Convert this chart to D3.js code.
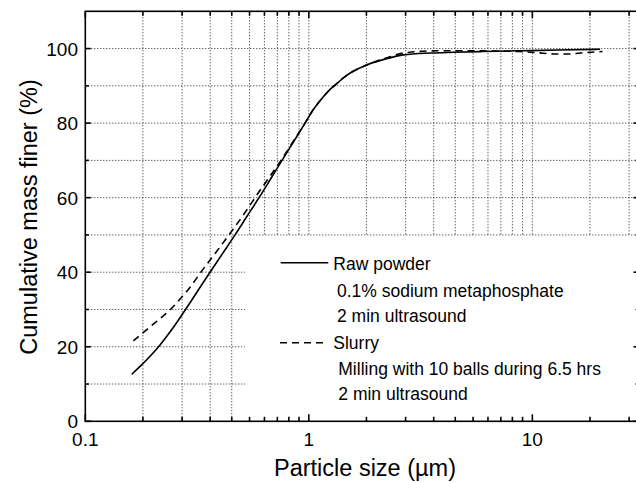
<!DOCTYPE html>
<html>
<head>
<meta charset="utf-8">
<script src="https://cdn.jsdelivr.net/npm/d3@7"></script>
<style>
  body { margin: 0; background: #fff; }
  svg { display: block; font-family: 'Liberation Sans', Arial, sans-serif; }
</style>
</head>
<body>
<div id="chart"></div>
<script>
(function() {

  // particle size (um) / cumulative mass finer (%)
  const rawSize = [0.1613, 0.1739, 0.1869, 0.2009, 0.2159, 0.2443, 0.2765, 0.3161, 0.3614, 0.4111,
    0.4676, 0.529, 0.5987, 0.6743, 0.7588, 0.8543, 0.9617, 1.044, 1.122, 1.219, 1.31, 1.452, 1.58,
    1.815, 2.23, 2.65, 3.5, 4.4, 6.0, 8.8, 13.0, 20.1];
  const rawFiner = [12.6, 14.45, 16.3, 18.3, 20.5, 24.7, 29.4, 34.7, 40, 45,
    50, 55, 60, 65, 70, 75, 80, 83.5, 86, 88.5, 90.2, 92.5, 93.9,
    95.6, 97.3, 98.3, 98.8, 99.0, 99.2, 99.4, 99.6, 99.8];

  const slurrySize = [0.164, 0.1849, 0.2094, 0.2393, 0.2709, 0.2971, 0.3261, 0.3805, 0.4441, 0.5183,
    0.5745, 0.657, 0.7507, 0.85, 0.9617, 1.044, 1.122, 1.219, 1.31, 1.452, 1.58, 1.815, 2.23, 2.65,
    3.73, 5.26, 7.4, 8.8, 10.5, 12.5, 14.5, 17.0, 20.6];
  const slurryFiner = [21.6, 24.2, 26.9, 29.9, 33.4, 36.3, 39.7, 45, 50.4, 56,
    60, 65, 70, 75, 80, 83.5, 86, 88.5, 90.2, 92.5, 93.9, 95.6, 97.5, 98.8,
    99.4, 99.4, 99.3, 99.2, 98.9, 98.55, 98.55, 98.9, 99.2];

  const xMajorTicks = [0.1, 1, 10];
  const xMinorGrid = [0.181, 0.271, 0.362, 0.452, 0.543, 0.633, 0.723, 0.814, 0.904,
    1.81, 2.71, 3.62, 4.52, 5.43, 6.33, 7.23, 8.14, 9.04, 18.1, 27.1];
  const yMajorTicks = [0, 20, 40, 60, 80, 100];
  const yMinorTicks = [10, 30, 50, 70, 90];

  const legendRaw = ['Raw powder', '0.1% sodium metaphosphate', '2 min ultrasound'];
  const legendSlurry = ['Slurry', 'Milling with 10 balls during 6.5 hrs', '2 min ultrasound'];

  const size = { x: 636, y: 483 };
  const plot = { left: 85.3, right: 639, top: 11.3, bottom: 421.3 };

  const svg = d3.select('#chart')
    .append('svg')
    .attr('width', size.x)
    .attr('height', size.y);

  const xScale = d3.scaleLog()
    .domain([0.1, 30])
    .range([plot.left, plot.right]);
  const yScale = d3.scaleLinear()
    .domain([0, 110])
    .range([plot.bottom, plot.top]);

  // grid
  const grid = svg.append('g')
    .attr('stroke', '#222')
    .attr('stroke-width', 1)
    .attr('stroke-dasharray', '1,2');
  grid.selectAll('.vgrid')
    .data(xMinorGrid.concat([1, 10]))
    .enter()
    .append('line')
      .attr('x1', d => xScale(d))
      .attr('x2', d => xScale(d))
      .attr('y1', plot.top)
      .attr('y2', plot.bottom);
  grid.selectAll('.hgrid')
    .data(yMajorTicks.concat(yMinorTicks).filter(d => d > 0))
    .enter()
    .append('line')
      .attr('x1', plot.left)
      .attr('x2', plot.right)
      .attr('y1', d => yScale(d))
      .attr('y2', d => yScale(d));

  // legend background hides the grid
  svg.append('rect')
    .attr('x', 245)
    .attr('y', yScale(50) + 1)
    .attr('width', plot.right - 245)
    .attr('height', plot.bottom - yScale(50) - 1)
    .attr('fill', '#fff');

  // curves
  const valueLine = d3.line()
    .x(d => xScale(d[0]))
    .y(d => yScale(d[1]))
    .curve(d3.curveMonotoneX);

  svg.append('path')
    .datum(d3.zip(rawSize, rawFiner))
    .attr('d', valueLine)
    .attr('fill', 'none')
    .attr('stroke', '#000')
    .attr('stroke-width', 1.6);

  svg.append('path')
    .datum(d3.zip(slurrySize, slurryFiner))
    .attr('d', valueLine)
    .attr('fill', 'none')
    .attr('stroke', '#000')
    .attr('stroke-width', 1.6)
    .attr('stroke-dasharray', '7,5');

  // frame and ticks
  const axes = svg.append('g')
    .attr('stroke', '#000')
    .attr('stroke-width', 1.6);
  axes.append('rect')
    .attr('x', plot.left)
    .attr('y', plot.top)
    .attr('width', plot.right - plot.left)
    .attr('height', plot.bottom - plot.top)
    .attr('fill', 'none');

  const xTicks = xMajorTicks.map(d => [d, 7]).concat(xMinorGrid.map(d => [d, 4.5]));
  xTicks.forEach(t => {
    axes.append('line')
      .attr('x1', xScale(t[0])).attr('x2', xScale(t[0]))
      .attr('y1', plot.bottom).attr('y2', plot.bottom - t[1]);
    axes.append('line')
      .attr('x1', xScale(t[0])).attr('x2', xScale(t[0]))
      .attr('y1', plot.top).attr('y2', plot.top + t[1]);
  });
  const yTicks = yMajorTicks.map(d => [d, 5.5]).concat(yMinorTicks.map(d => [d, 3.5]));
  yTicks.forEach(t => {
    axes.append('line')
      .attr('x1', plot.left).attr('x2', plot.left + t[1])
      .attr('y1', yScale(t[0])).attr('y2', yScale(t[0]));
    axes.append('line')
      .attr('x1', plot.right).attr('x2', plot.right - t[1])
      .attr('y1', yScale(t[0])).attr('y2', yScale(t[0]));
  });

  // tick labels
  svg.selectAll('.xlabel')
    .data(xMajorTicks)
    .enter()
    .append('text')
      .attr('x', d => xScale(d))
      .attr('y', 446)
      .attr('text-anchor', 'middle')
      .attr('font-size', 19)
      .text(d => d);

  svg.selectAll('.ylabel')
    .data(yMajorTicks)
    .enter()
    .append('text')
      .attr('x', 78)
      .attr('y', d => yScale(d) + 7)
      .attr('text-anchor', 'end')
      .attr('font-size', 19)
      .text(d => d);

  // axis titles
  svg.append('text')
    .attr('x', 365)
    .attr('y', 476)
    .attr('text-anchor', 'middle')
    .attr('font-size', 23.5)
    .text('Particle size (\u00b5m)');

  svg.append('text')
    .attr('transform', 'translate(37, 217) rotate(-90)')
    .attr('text-anchor', 'middle')
    .attr('font-size', 23.5)
    .text('Cumulative mass finer (%)');

  // legend
  const legend = svg.append('g')
    .attr('font-size', 17.5);
  legend.append('line')
    .attr('x1', 280.7).attr('x2', 328.3)
    .attr('y1', 262.7).attr('y2', 262.7)
    .attr('stroke', '#000')
    .attr('stroke-width', 1.6);
  legend.append('line')
    .attr('x1', 280).attr('x2', 328)
    .attr('y1', 342.7).attr('y2', 342.7)
    .attr('stroke', '#000')
    .attr('stroke-width', 1.6)
    .attr('stroke-dasharray', '7,5');

  const rawBase = [269.5, 297, 322];
  const slurryBase = [348.5, 375, 400];
  legendRaw.forEach((s, i) => {
    legend.append('text')
      .attr('x', i == 0 ? 333.3 : 337)
      .attr('y', rawBase[i])
      .text(s);
  });
  legendSlurry.forEach((s, i) => {
    legend.append('text')
      .attr('x', i == 0 ? 333.3 : 338.3)
      .attr('y', slurryBase[i])
      .text(s);
  });
}());
</script>
</body>
</html>
